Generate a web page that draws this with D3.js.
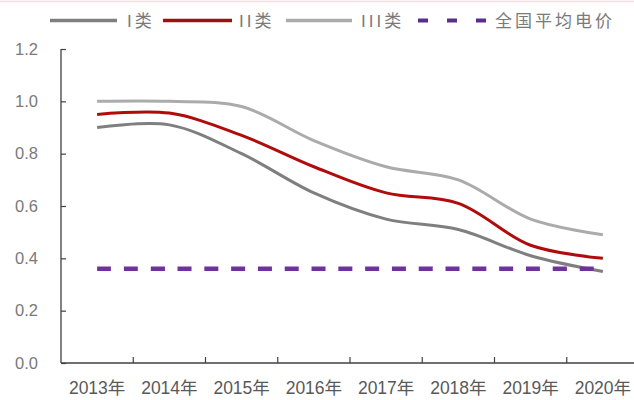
<!DOCTYPE html>
<html><head><meta charset="utf-8">
<script src="https://cdn.jsdelivr.net/npm/d3@7"></script>
<style>
html,body{margin:0;padding:0;background:#fff;}
svg{display:block;}
text{font-family:"Liberation Sans","Noto Sans CJK SC",sans-serif;}
</style></head>
<body>
<script>
const years = ["2013年","2014年","2015年","2016年","2017年","2018年","2019年","2020年"];
const classI   = [0.90, 0.91, 0.80, 0.65, 0.55, 0.51, 0.41, 0.35];
const classII  = [0.95, 0.955, 0.87, 0.75, 0.65, 0.61, 0.45, 0.40];
const classIII = [1.00, 1.00, 0.98, 0.85, 0.75, 0.70, 0.55, 0.49];
const nationalAvg = [0.36, 0.36, 0.36, 0.36, 0.36, 0.36, 0.36, 0.36];
const yTicks = [0, 0.2, 0.4, 0.6, 0.8, 1.0, 1.2];
const seriesNames = ["I类", "II类", "III类", "全国平均电价"];

const W = 634, H = 400;
const svg = d3.select("body").append("svg").attr("width", W).attr("height", H);

// faint top border remnant
svg.append("line").attr("x1", 0).attr("x2", W).attr("y1", 1.5).attr("y2", 1.5)
  .attr("stroke", "#f3dede").attr("stroke-width", 1.5);

const x = d3.scaleBand().domain(years).range([61, 639]);
const y = d3.scaleLinear().domain([0, 1.2]).range([363, 49]);
const cx = d => x(d) + x.bandwidth() / 2;

// Y axis
const yAxis = svg.append("g").attr("transform", "translate(61,0)")
  .call(d3.axisRight(y).tickValues(yTicks).tickSize(5).tickFormat(d3.format(".1f")));
yAxis.select(".domain").attr("stroke", "#404040").attr("stroke-width", 1.3).attr("d", "M0,49V363");
yAxis.selectAll(".tick line").attr("stroke", "#404040").attr("stroke-width", 1.2);
yAxis.selectAll(".tick text").attr("x", -23).attr("text-anchor", "end")
  .attr("fill", "#7a7a7a").style("font-size", "16.5px").attr("dx", 0);

// X axis
const xAxis = svg.append("g").attr("transform", "translate(0,363)")
  .call(d3.axisBottom(x).tickSize(0).tickPadding(19));
xAxis.select(".domain").attr("stroke", "#404040").attr("stroke-width", 1.3).attr("d", "M61,0H634");
xAxis.selectAll(".tick text").attr("fill", "#595959").style("font-size", "17.5px");
// boundary ticks between categories
xAxis.selectAll(".bt").data(years.slice(1)).enter().append("line")
  .attr("x1", d => x(d)).attr("x2", d => x(d)).attr("y1", 0).attr("y2", -6)
  .attr("stroke", "#404040").attr("stroke-width", 1.2);

const line = d3.line().x((d, i) => cx(years[i])).y(d => y(d)).curve(d3.curveCatmullRom.alpha(0.5));

const series = [
  {vals: classI, color: "#7f7f7f", w: 3, dash: null},
  {vals: classII, color: "#b00c0c", w: 3, dash: null},
  {vals: classIII, color: "#ababab", w: 3, dash: null},
  {vals: nationalAvg, color: "#7030a0", w: 4.5, dash: "14,12.8"}
];
series.forEach(s => {
  svg.append("path").datum(s.vals).attr("d", line).attr("fill", "none")
    .attr("stroke", s.color).attr("stroke-width", s.w)
    .attr("stroke-dasharray", s.dash);
});

// Legend
const legend = [
  {x1: 50, x2: 117, tx: 127, color: "#7f7f7f", dash: null, w: 3.5},
  {x1: 163, x2: 232, tx: 239, color: "#a01010", dash: null, w: 3.5},
  {x1: 286, x2: 352, tx: 361, color: "#ababab", dash: null, w: 3.5},
  {x1: 418, x2: 488, tx: 495, color: "#5a2e8a", dash: "10,19", w: 4}
];
legend.forEach((l, i) => {
  svg.append("text").attr("x", l.tx).attr("y", 27).text(seriesNames[i])
    .attr("fill", "#7a7a7a").style("font-size", "17px")
    .style("letter-spacing", i === 3 ? "3px" : "3px");
  svg.append("line").attr("x1", l.x1).attr("x2", l.x2).attr("y1", 20.5).attr("y2", 20.5)
    .attr("stroke", l.color).attr("stroke-width", l.w).attr("stroke-dasharray", l.dash);
});
</script>
</body></html>
